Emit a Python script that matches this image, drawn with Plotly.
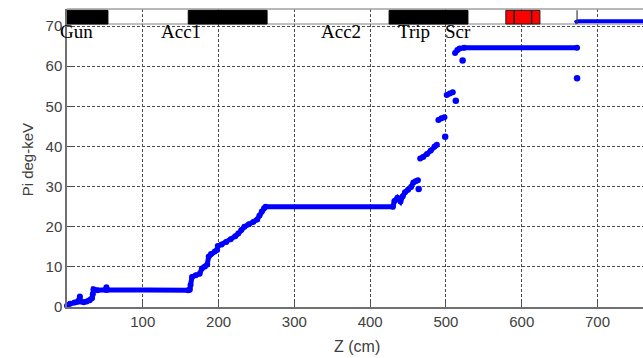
import plotly.graph_objects as go

# ---------------- data ----------------
z_beam = [0, 4, 10, 14, 16, 17, 18, 22, 26, 30, 33, 34, 35, 40, 51, 52, 53,
          160, 162, 163, 165, 170, 175, 178, 182, 185, 187, 190, 195, 198, 199, 204,
          210, 216, 222, 226, 230, 234, 240, 246, 251, 254, 257, 260, 262,
          430, 432, 436, 440, 443, 446, 450, 454, 457, 460, 463, None,
          466, 470, 475, 480, 485, 488, None,
          490, 494, 498, None,
          501, 505, 509, None,
          512, 515, 518, 524, 673]
pi_beam = [0.3, 0.8, 1.1, 1.3, 1.8, 2.6, 1.4, 1.2, 1.4, 1.7, 2.2, 3.2, 4.4, 4.2, 4.3, 4.9, 4.3,
           4.2, 4.3, 5.5, 7.5, 7.9, 8.3, 9.6, 10.1, 10.6, 12.6, 13.2, 13.8, 14.2, 15.2, 15.6,
           16.2, 16.9, 17.6, 18.3, 19.2, 20.0, 20.6, 21.2, 21.8, 22.8, 23.8, 24.6, 25.0,
           25.0, 26.4, 27.2, 26.3, 27.6, 28.6, 29.2, 29.9, 31.0, 31.3, 31.6, None,
           37.0, 37.4, 38.1, 39.0, 40.0, 40.4, None,
           46.6, 47.0, 47.3, None,
           52.8, 53.2, 53.5, None,
           63.3, 64.0, 64.4, 64.6, 64.6]

z_outlier = [464, 499, 513, 522, 673]
pi_outlier = [29.4, 42.4, 51.4, 61.4, 57.0]

z_upper = [670, 674, 760]
pi_upper = [70.8, 71.2, 71.2]

x_ticks = [100, 200, 300, 400, 500, 600, 700]
y_ticks = [0, 10, 20, 30, 40, 50, 60, 70]

# beamline strip (z ranges in cm)
label_names = ["Gun", "Acc1", "Acc2", "Trip", "Scr"]
label_z = [12, 150, 362, 458, 516]
black_start = [0, 160, 425]
black_end = [54, 264, 529]
red_start, red_end = 579, 624
red_dividers = [590, 613]
end_marker_z = 673

X_MAX = 760
Y_MAX = 74.24
STRIP_LO, STRIP_HI = 70.5, 73.9

BLUE = "#0000ff"

fig = go.Figure()
fig.add_trace(go.Scatter(x=z_beam, y=pi_beam, mode="lines+markers",
                         line=dict(color=BLUE, width=5),
                         marker=dict(color=BLUE, size=6),
                         cliponaxis=False, connectgaps=False, showlegend=False))
fig.add_trace(go.Scatter(x=z_outlier, y=pi_outlier, mode="markers",
                         marker=dict(color=BLUE, size=6.5),
                         cliponaxis=False, showlegend=False))
fig.add_trace(go.Scatter(x=z_upper, y=pi_upper, mode="lines",
                         line=dict(color=BLUE, width=4),
                         showlegend=False))

shapes = []
shapes.append(dict(type="line", xref="x", yref="paper", x0=0, x1=X_MAX, y0=1, y1=1,
                   line=dict(color="#a0a0a0", width=1.5), layer="above"))
shapes.append(dict(type="line", xref="x", yref="y", x0=0, x1=X_MAX, y0=STRIP_LO, y1=STRIP_LO,
                   line=dict(color="#808080", width=1), layer="above"))
for s, e in zip(black_start, black_end):
    shapes.append(dict(type="rect", xref="x", yref="y", x0=s, x1=e, y0=STRIP_LO, y1=STRIP_HI,
                       fillcolor="black", line=dict(color="black", width=1), layer="above"))
shapes.append(dict(type="rect", xref="x", yref="y", x0=red_start, x1=red_end, y0=STRIP_LO, y1=STRIP_HI,
                   fillcolor="#ff0000", line=dict(color="#202020", width=1), layer="above"))
for d in red_dividers:
    shapes.append(dict(type="line", xref="x", yref="y", x0=d, x1=d, y0=STRIP_LO, y1=STRIP_HI,
                       line=dict(color="#202020", width=1.5), layer="above"))
shapes.append(dict(type="line", xref="x", yref="y", x0=end_marker_z, x1=end_marker_z,
                   y0=STRIP_LO, y1=STRIP_HI, line=dict(color="#404040", width=1.2), layer="above"))

annotations = []
for name, zc in zip(label_names, label_z):
    annotations.append(dict(x=zc, y=68.7, xref="x", yref="y", text=name, showarrow=False,
                            xanchor="center", yanchor="middle",
                            font=dict(family="Liberation Serif", size=19, color="black")))
annotations.append(dict(x=-0.069, y=0.493, xref="paper", yref="paper", text="Pi deg-keV",
                        showarrow=False, textangle=-90, xanchor="center", yanchor="middle",
                        font=dict(family="Liberation Sans", size=15, color="#404040")))
annotations.append(dict(x=0.503, y=-0.134, xref="paper", yref="paper", text="Z (cm)",
                        showarrow=False, xanchor="center", yanchor="middle",
                        font=dict(family="Liberation Sans", size=16, color="#404040")))

grid_kw = dict(showgrid=True, gridcolor="#4a4a4a", gridwidth=1, griddash="3px,2px")

fig.update_layout(
    width=643, height=358,
    margin=dict(l=67, r=0, t=9, b=51),
    paper_bgcolor="white", plot_bgcolor="white",
    shapes=shapes, annotations=annotations,
    xaxis=dict(range=[0, X_MAX], tickvals=x_ticks, ticks="inside", ticklen=5, tickwidth=1,
               tickcolor="#505050", showline=True, linecolor="#707070", linewidth=1.5,
               zeroline=False, tickfont=dict(family="Liberation Sans", size=15, color="#404040"),
               **grid_kw),
    yaxis=dict(range=[0, Y_MAX], tickvals=y_ticks, ticks="inside", ticklen=5, tickwidth=1,
               tickcolor="#505050", showline=True, linecolor="#707070", linewidth=1.5,
               zeroline=False, tickfont=dict(family="Liberation Sans", size=15, color="#404040"),
               **grid_kw),
)

fig.write_html("out.html")
